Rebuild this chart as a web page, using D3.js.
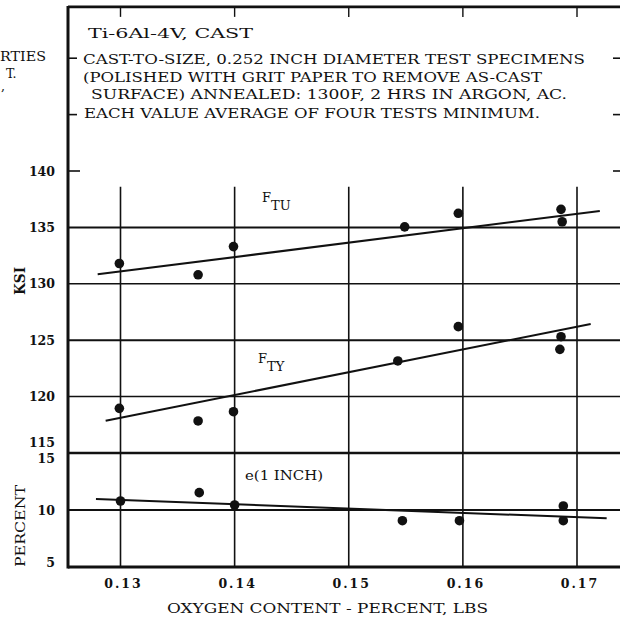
<!DOCTYPE html>
<html>
<head>
<meta charset="utf-8">
<script src="https://cdn.jsdelivr.net/npm/d3@7"></script>
<style>
html,body{margin:0;padding:0;background:#fff;}
svg{display:block;}
text{fill:#111;}
</style>
</head>
<body>
<svg id="c" width="620" height="617"></svg>
<script>
// ---------- data ----------
const oxygenTicks = [0.13, 0.14, 0.15, 0.16, 0.17];
const ksiTickLabels = [140, 135, 130, 125, 120, 115];
const ksiGrid = [135, 130, 125, 120];
const ksiFrameTicks = [150, 145, 140];
const pctTickLabels = [15, 10, 5];
const pctGrid = [10];

const ftuOxygen = [0.1299, 0.1368, 0.1399, 0.1549, 0.1596, 0.1686, 0.1687];
const ftuKsi    = [131.8, 130.8, 133.3, 135.05, 136.25, 136.6, 135.5];
const ftuFitOxygen = [0.1280, 0.1720];
const ftuFitKsi    = [130.84, 136.45];

const ftyOxygen = [0.1299, 0.1368, 0.1399, 0.1543, 0.1596, 0.1686, 0.1685];
const ftyKsi    = [118.96, 117.84, 118.66, 123.16, 126.2, 125.31, 124.19];
const ftyFitOxygen = [0.1287, 0.1712];
const ftyFitKsi    = [117.86, 126.44];

const elongOxygen = [0.1300, 0.1369, 0.1400, 0.1547, 0.1597, 0.1688, 0.1688];
const elongPct    = [10.79, 11.52, 10.44, 9.06, 9.06, 10.35, 9.06];
const elongFitOxygen = [0.12785, 0.1726];
const elongFitPct    = [10.96, 9.27];

const noteLines = [
  "Ti-6Al-4V, CAST",
  "CAST-TO-SIZE, 0.252 INCH DIAMETER TEST SPECIMENS",
  "(POLISHED WITH GRIT PAPER TO REMOVE AS-CAST",
  "SURFACE)  ANNEALED:  1300F, 2 HRS IN ARGON, AC.",
  "EACH VALUE AVERAGE OF FOUR TESTS MINIMUM."
];
const clippedTitle = ["RTIES", "T.", ","];

// ---------- scales ----------
const svg = d3.select("#c");
const x = d3.scaleLinear().domain([0.13, 0.17]).range([120.5, 577]);
const yK = d3.scaleLinear().domain([115, 140]).range([453, 171]);
const yP = d3.scaleLinear().domain([5, 15]).range([567, 453]);

const fLeft = x(0.1254), fRight = 628, fTop = yK(154.55), fBottom = yP(5);
const gridTop = yK(138.6);
const serif = "'DejaVu Serif', 'Liberation Serif', serif";

// gridlines vertical
svg.selectAll("line.vg").data(oxygenTicks).join("line")
  .attr("x1", d => x(d)).attr("x2", d => x(d))
  .attr("y1", gridTop).attr("y2", fBottom)
  .attr("stroke", "#111").attr("stroke-width", 1.6);
// top ticks
svg.selectAll("line.tt").data(oxygenTicks).join("line")
  .attr("x1", d => x(d)).attr("x2", d => x(d))
  .attr("y1", fTop).attr("y2", fTop + 10)
  .attr("stroke", "#111").attr("stroke-width", 1.4);

// gridlines horizontal (ksi)
svg.selectAll("line.hk").data(ksiGrid).join("line")
  .attr("x1", fLeft).attr("x2", fRight)
  .attr("y1", d => yK(d)).attr("y2", d => yK(d))
  .attr("stroke", "#111").attr("stroke-width", (d) => (d === 135 || d === 125) ? 2 : 1.5);
// separator 115 / 15
svg.append("line").attr("x1", fLeft).attr("x2", fRight)
  .attr("y1", yK(115)).attr("y2", yK(115))
  .attr("stroke", "#111").attr("stroke-width", 2.6);
// percent grid
svg.selectAll("line.hp").data(pctGrid).join("line")
  .attr("x1", fLeft).attr("x2", fRight)
  .attr("y1", d => yP(d)).attr("y2", d => yP(d))
  .attr("stroke", "#111").attr("stroke-width", 1.8);

// frame ticks
svg.selectAll("line.lt").data(ksiFrameTicks).join("line")
  .attr("x1", fLeft).attr("x2", d => d === 140 ? fLeft + 12 : fLeft + 9)
  .attr("y1", d => yK(d)).attr("y2", d => yK(d))
  .attr("stroke", "#111").attr("stroke-width", 1.6);
svg.selectAll("line.rt").data(ksiFrameTicks).join("line")
  .attr("x1", 613).attr("x2", fRight)
  .attr("y1", d => yK(d)).attr("y2", d => yK(d))
  .attr("stroke", "#111").attr("stroke-width", 1.6);

// frame
svg.append("line").attr("x1", fLeft).attr("x2", fLeft).attr("y1", fTop - 1).attr("y2", fBottom + 1.5)
  .attr("stroke", "#111").attr("stroke-width", 3);
svg.append("line").attr("x1", fLeft).attr("x2", fRight).attr("y1", fTop).attr("y2", fTop)
  .attr("stroke", "#111").attr("stroke-width", 2.6);
svg.append("line").attr("x1", fLeft).attr("x2", fRight).attr("y1", fBottom).attr("y2", fBottom)
  .attr("stroke", "#111").attr("stroke-width", 3);

// fit lines
function fit(xs, ys, sc) {
  svg.append("line")
    .attr("x1", x(xs[0])).attr("y1", sc(ys[0]))
    .attr("x2", x(xs[1])).attr("y2", sc(ys[1]))
    .attr("stroke", "#111").attr("stroke-width", 2);
}
fit(ftuFitOxygen, ftuFitKsi, yK);
fit(ftyFitOxygen, ftyFitKsi, yK);
fit(elongFitOxygen, elongFitPct, yP);

// points
function pts(xs, ys, sc) {
  svg.append("g").selectAll("circle").data(xs).join("circle")
    .attr("cx", d => x(d)).attr("cy", (d, i) => sc(ys[i])).attr("r", 4.8)
    .attr("fill", "#111");
}
pts(ftuOxygen, ftuKsi, yK);
pts(ftyOxygen, ftyKsi, yK);
pts(elongOxygen, elongPct, yP);

// tick labels
svg.selectAll("text.kl").data(ksiTickLabels).join("text")
  .attr("x", 55).attr("y", d => d === 115 ? yK(d) - 6 : yK(d) + 4.5)
  .attr("text-anchor", "end").attr("font-family", serif).attr("font-weight", "bold")
  .attr("font-size", 12.5).text(d => d);
svg.selectAll("text.pl").data(pctTickLabels).join("text")
  .attr("x", 55).attr("y", d => d === 15 ? yP(d) + 10 : (d === 5 ? yP(d) - 0.5 : yP(d) + 4.5))
  .attr("text-anchor", "end").attr("font-family", serif).attr("font-weight", "bold")
  .attr("font-size", 12.5).text(d => d);
svg.selectAll("text.xl").data(oxygenTicks).join("text")
  .attr("x", d => x(d) + 3).attr("y", 588)
  .attr("text-anchor", "middle").attr("font-family", serif).attr("font-weight", "bold")
  .attr("font-size", 12.5).attr("letter-spacing", 2).text(d => d.toFixed(2));

// axis titles
svg.append("text").attr("x", 167).attr("y", 613).attr("font-family", serif)
  .attr("font-size", 13).attr("textLength", 321).attr("lengthAdjust", "spacingAndGlyphs")
  .text("OXYGEN CONTENT - PERCENT, LBS");
svg.append("text").attr("transform", "translate(25,295) rotate(-90)")
  .attr("font-family", serif).attr("font-size", 14).attr("font-weight", "bold")
  .attr("textLength", 28).attr("lengthAdjust", "spacingAndGlyphs")
  .text("KSI");
svg.append("text").attr("transform", "translate(25,567) rotate(-90)")
  .attr("font-family", serif).attr("font-size", 13.5)
  .attr("textLength", 82).attr("lengthAdjust", "spacingAndGlyphs").text("PERCENT");

// series labels
function sublabel(xp, yp, main, sub) {
  const t = svg.append("text").attr("x", xp).attr("y", yp).attr("font-family", serif).attr("font-size", 13);
  t.append("tspan").text(main);
  t.append("tspan").attr("dy", 8).attr("font-size", 13).text(sub);
}
sublabel(262, 202, "F", "TU");
sublabel(258, 363, "F", "TY");
svg.append("text").attr("x", 245).attr("y", 480).attr("font-family", serif).attr("font-size", 13)
  .attr("textLength", 78).attr("lengthAdjust", "spacingAndGlyphs").text("e(1 INCH)");

// note text
const noteX = [88, 83, 83, 91, 84];
const noteY = [38, 64, 82, 99, 118];
const noteW = [165, 502, 459, 476, 456];
svg.selectAll("text.note").data(noteLines).join("text")
  .attr("x", (d, i) => noteX[i]).attr("y", (d, i) => noteY[i])
  .attr("font-family", serif).attr("font-size", 12.5)
  .attr("textLength", (d, i) => noteW[i]).attr("lengthAdjust", "spacingAndGlyphs")
  .text(d => d);

// fragment of neighbouring title (cut by the page edge in the reference)
const clipX = [0, 6, 1];
const clipY = [61, 78, 90];
svg.selectAll("text.clip").data(clippedTitle).join("text")
  .attr("x", (d, i) => clipX[i]).attr("y", (d, i) => clipY[i])
  .attr("font-family", serif).attr("font-size", 12.5)
  .attr("textLength", (d, i) => i === 0 ? 46 : null)
  .attr("lengthAdjust", "spacingAndGlyphs")
  .text(d => d);
</script>
</body>
</html>
